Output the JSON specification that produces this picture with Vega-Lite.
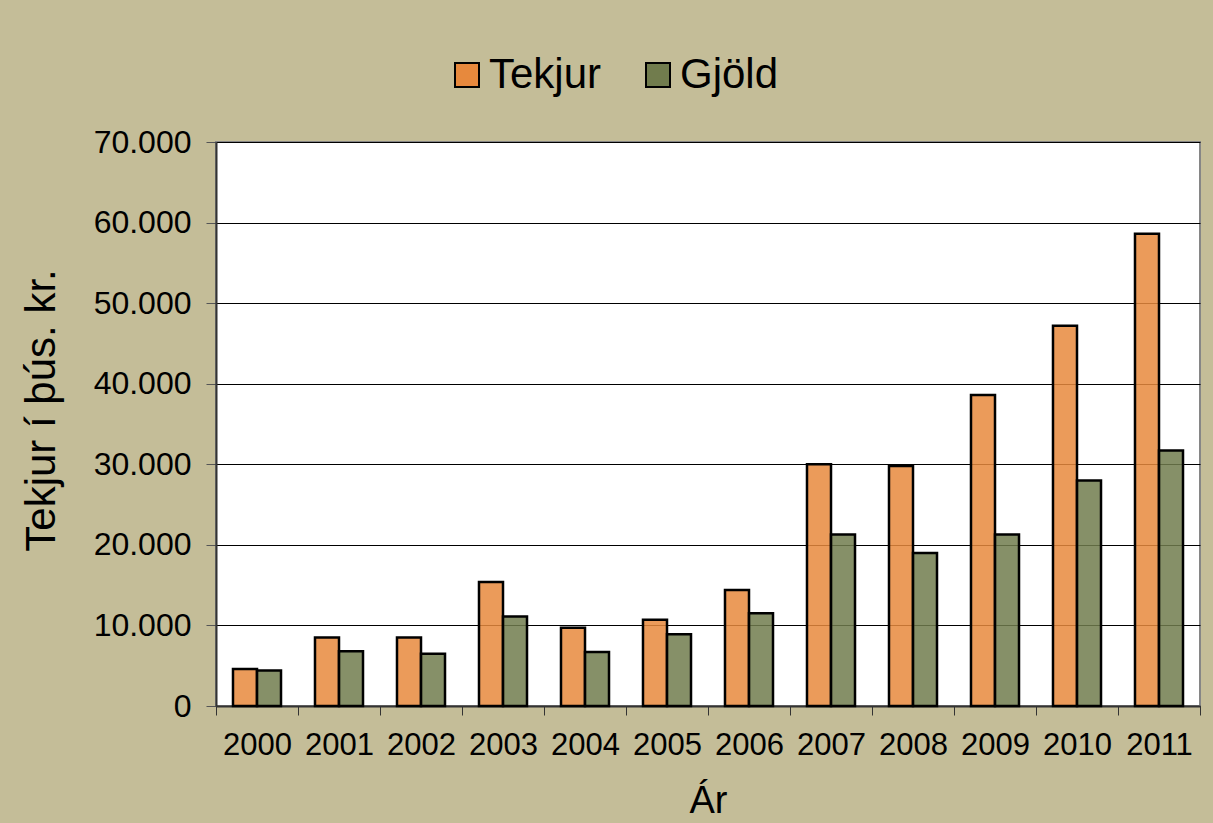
{
  "$schema": "https://vega.github.io/schema/vega-lite/v6.json",
  "autosize": {"type": "none"},
  "width": 984,
  "height": 564,
  "padding": {"left": 216, "top": 142, "right": 13, "bottom": 117},
  "background": "#C4BD98",
  "config": {
    "font": "Liberation Sans",
    "view": {"fill": "#FFFFFF", "stroke": "#868686", "strokeWidth": 2}
  },
  "data": {
    "values": [
      {"year": "2000", "series": "Tekjur", "value": 4600},
      {"year": "2000", "series": "Gjöld", "value": 4400},
      {"year": "2001", "series": "Tekjur", "value": 8500},
      {"year": "2001", "series": "Gjöld", "value": 6800},
      {"year": "2002", "series": "Tekjur", "value": 8500},
      {"year": "2002", "series": "Gjöld", "value": 6500},
      {"year": "2003", "series": "Tekjur", "value": 15400},
      {"year": "2003", "series": "Gjöld", "value": 11100},
      {"year": "2004", "series": "Tekjur", "value": 9700},
      {"year": "2004", "series": "Gjöld", "value": 6700},
      {"year": "2005", "series": "Tekjur", "value": 10700},
      {"year": "2005", "series": "Gjöld", "value": 8900},
      {"year": "2006", "series": "Tekjur", "value": 14400},
      {"year": "2006", "series": "Gjöld", "value": 11500},
      {"year": "2007", "series": "Tekjur", "value": 30000},
      {"year": "2007", "series": "Gjöld", "value": 21300},
      {"year": "2008", "series": "Tekjur", "value": 29800},
      {"year": "2008", "series": "Gjöld", "value": 19000},
      {"year": "2009", "series": "Tekjur", "value": 38600},
      {"year": "2009", "series": "Gjöld", "value": 21300},
      {"year": "2010", "series": "Tekjur", "value": 47200},
      {"year": "2010", "series": "Gjöld", "value": 28000},
      {"year": "2011", "series": "Tekjur", "value": 58600},
      {"year": "2011", "series": "Gjöld", "value": 31700}
    ]
  },
  "mark": {"type": "bar", "stroke": "#000000", "strokeWidth": 2.5, "fillOpacity": 0.85},
  "encoding": {
    "x": {
      "field": "year",
      "type": "nominal",
      "scale": {"paddingInner": 0, "paddingOuter": 0},
      "axis": {
        "title": "Ár",
        "titleFontSize": 38,
        "titleFontWeight": "normal",
        "titleColor": "#000000",
        "titlePadding": 22,
        "labelAngle": 0,
        "labelFontSize": 31,
        "labelColor": "#000000",
        "labelPadding": 15,
        "tickBand": "extent",
        "tickSize": 9,
        "tickColor": "#333333",
        "domainColor": "#333333",
        "domainWidth": 2,
        "grid": false
      }
    },
    "xOffset": {"field": "series", "type": "nominal", "sort": ["Tekjur", "Gjöld"], "scale": {"paddingInner": 0, "paddingOuter": 0.708}},
    "y": {
      "field": "value",
      "type": "quantitative",
      "scale": {"domain": [0, 70000], "nice": false},
      "axis": {
        "title": "Tekjur í þús. kr.",
        "titleFontSize": 42,
        "titleFontWeight": "normal",
        "titleColor": "#000000",
        "titlePadding": 30,
        "titleY": 268,
        "values": [0, 10000, 20000, 30000, 40000, 50000, 60000, 70000],
        "labelExpr": "replace(format(datum.value, ','), ',', '.')",
        "labelFontSize": 32,
        "labelColor": "#000000",
        "labelPadding": 15,
        "tickSize": 10,
        "tickColor": "#555555",
        "domainColor": "#333333",
        "domainWidth": 2,
        "grid": true,
        "gridColor": "#000000",
        "gridWidth": 1,
        "gridOpacity": 1
      }
    },
    "color": {
      "field": "series",
      "type": "nominal",
      "sort": ["Tekjur", "Gjöld"],
      "scale": {"domain": ["Tekjur", "Gjöld"], "range": ["#E7893D", "#717C4D"]},
      "legend": {
        "title": null,
        "orient": "none",
        "direction": "horizontal",
        "legendX": 230,
        "legendY": -88,
        "symbolType": "square",
        "symbolSize": 576,
        "symbolStrokeColor": "#000000",
        "symbolStrokeWidth": 2,
        "symbolOpacity": 1,
        "labelFontSize": 42,
        "labelColor": "#000000",
        "labelOffset": 1,
        "columnPadding": 35,
        "labelLimit": 300
      }
    }
  }
}
